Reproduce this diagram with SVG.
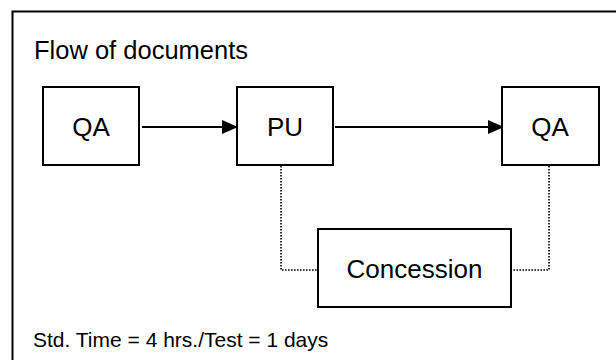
<svg xmlns="http://www.w3.org/2000/svg" width="616" height="360" viewBox="0 0 616 360">
<style>
.box{fill:#fff;stroke:#000;stroke-width:2}
.t{font-family:"Liberation Sans",Arial,sans-serif;fill:#000}
.lbl{font-size:26px;text-anchor:middle}
.flow{stroke:#000;stroke-width:2;fill:none}
.dot{stroke:#000;stroke-width:1.6;fill:none;stroke-dasharray:1.6 1.4}
</style>
<defs>
<marker id="ah" markerWidth="16" markerHeight="14" refX="15" refY="7" orient="auto" markerUnits="userSpaceOnUse">
<path d="M0,0 L16,7 L0,14 Z" fill="#000"/>
</marker>
</defs>
<rect width="616" height="360" fill="#fff"/>
<path d="M12.5,360 V11.5 H616" fill="none" stroke="#000" stroke-width="2"/>
<text class="t" x="34" y="59" font-size="25.5">Flow of documents</text>
<g id="connectors">
<line class="flow" x1="142" y1="127" x2="237" y2="127" marker-end="url(#ah)"/>
<line class="flow" x1="335" y1="127" x2="503" y2="127" marker-end="url(#ah)"/>
<polyline class="dot" points="281,166 281,270 318,270"/>
<polyline class="dot" points="549,166 549,270 511,270"/>
</g>
<g id="qa1">
<rect class="box" x="43" y="87" width="96" height="78"/>
<text class="t lbl" x="91" y="136">QA</text>
</g>
<g id="pu">
<rect class="box" x="237" y="87" width="96" height="78"/>
<text class="t lbl" x="285" y="136">PU</text>
</g>
<g id="qa2">
<rect class="box" x="502" y="87" width="97" height="78"/>
<text class="t lbl" x="550" y="136">QA</text>
</g>
<g id="concession">
<rect class="box" x="318" y="229" width="193" height="78"/>
<text class="t lbl" x="414.5" y="278" font-size="27">Concession</text>
</g>
<text class="t" x="33" y="347" font-size="21">Std. Time = 4 hrs./Test = 1 days</text>
</svg>
